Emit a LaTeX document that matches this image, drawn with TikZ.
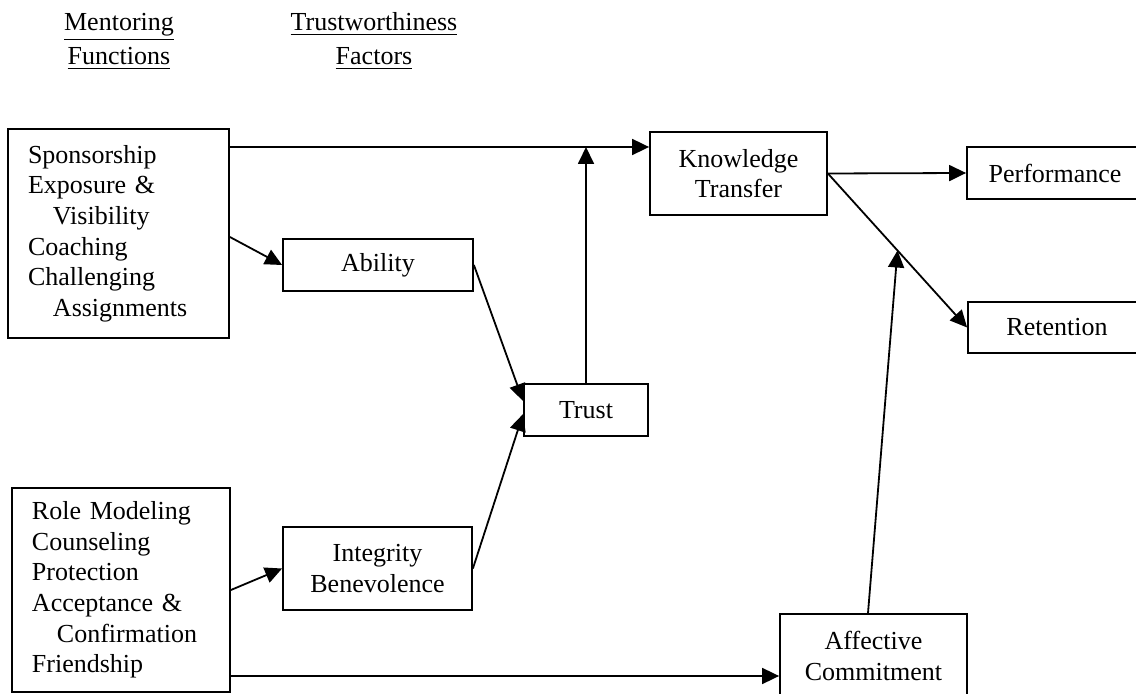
\documentclass[tikz,border=0pt]{standalone}
\usepackage{fontspec}
\setmainfont{Liberation Serif}
\usetikzlibrary{arrows.meta,calc}
\begin{document}
\begin{tikzpicture}[x=0.5pt,y=-0.5pt,
  every node/.style={font=\fontsize{13}{15.3}\selectfont},
  box/.style={draw,line width=0.9pt,inner sep=0pt,align=center},
  listbox/.style={draw,line width=0.9pt,inner xsep=10pt,inner ysep=0pt,align=left},
  head/.style={anchor=base,inner sep=0pt},
  arr/.style={line width=0.9pt,-{Triangle[length=8.5pt,width=8pt]}}]
\useasboundingbox (0,0) rectangle (1136,694);
\clip (0,0) rectangle (1136,694);
% headings
\node[head] (h1) at (119,31) {\underline{Mentoring}};
\node[head] (h2) at (119,65) {\underline{Functions}};
\node[head] (h3) at (374,31) {\underline{Trustworthiness}};
\node[head] (h4) at (374,65) {\underline{Factors}};
% boxes
\node[listbox,minimum width=110.5pt,minimum height=104.5pt,text width=90.5pt] (mf1) at (118.5,233.5)
 {Sponsorship\\Exposure \&\\\hspace*{12.5pt}Visibility\\Coaching\\Challenging\\\hspace*{12.5pt}Assignments};
\node[listbox,minimum width=109pt,minimum height=102pt,text width=89pt] (mf2) at (121,590)
 {Role Modeling\\Counseling\\Protection\\Acceptance \&\\\hspace*{12.5pt}Confirmation\\Friendship};
\node[box,minimum width=95pt,minimum height=26pt] (ab) at (378,265) {Ability};
\node[box,minimum width=94.5pt,minimum height=41.5pt] (ib) at (377.5,568.5) {Integrity\\Benevolence};
\node[box,minimum width=62pt,minimum height=26pt] (tr) at (586,410) {Trust};
\node[box,minimum width=88.5pt,minimum height=41.5pt] (kt) at (738.5,173.5) {Knowledge\\Transfer};
\node[box,minimum width=88pt,minimum height=26pt] (pf) at (1055,173) {Performance};
\node[box,minimum width=89pt,minimum height=25.5pt] (rt) at (1057,327.5) {Retention};
\node[box,minimum width=93.5pt,minimum height=42pt] (ac) at (873.5,656) {Affective\\Commitment};
% helper coordinates
\coordinate (c147) at (0,147);
\coordinate (c237) at (0,237);
\coordinate (c676) at (0,676);
\coordinate (m) at ($(kt.east)!0.5!(rt.west)$);
% connectors
\draw[arr] (mf1.east |- c147) -- (kt.west |- c147);
\draw[arr] (tr.north) -- (tr.north |- c147);
\draw[arr] (mf1.east |- c237) -- (ab.west);
\draw[arr] (ab.east) -- ([yshift=4.5pt]tr.west);
\draw[arr] (ib.east) -- ([yshift=-2pt]tr.west);
\draw[arr] (mf2.east) -- (ib.west);
\draw[arr] (mf2.east |- c676) -- (ac.west |- c676);
\draw[arr] ([xshift=-2.75pt]ac.north) -- (m);
\draw[arr] (kt.east) -- (pf.west);
\draw[arr] (kt.east) -- (rt.west);
\end{tikzpicture}
\end{document}
